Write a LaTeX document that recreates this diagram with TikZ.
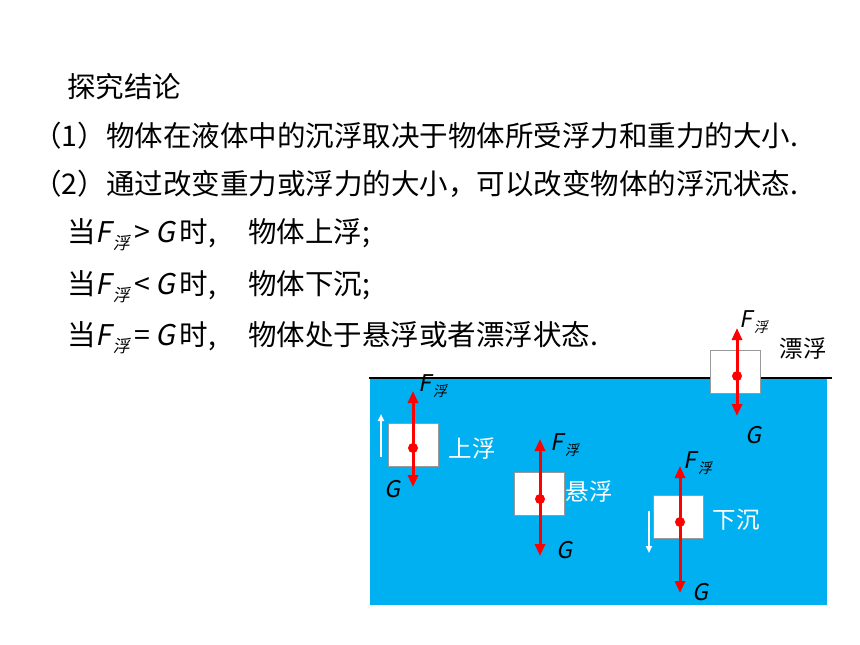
\documentclass[tikz,border=0pt]{standalone}
\usepackage{fontspec}
\setmainfont{Noto Sans CJK SC}
\newfontfamily\slfont[FakeSlant=0.2]{Noto Sans CJK SC}
\usetikzlibrary{arrows.meta}
\newcommand{\Fsub}[2]{{\slfont F\kern1.5pt\raisebox{#2}{\fontsize{#1}{#1}\selectfont 浮}}}
\begin{document}
\begin{tikzpicture}[x=1pt,y=-1pt,
  txt/.style={anchor=west,inner sep=0pt,font=\fontsize{28.5}{34}\selectfont},
  obj/.style={draw=gray!80,fill=white,line width=1pt,minimum width=50pt,minimum height=43pt,inner sep=0pt},
  dotc/.style={circle,fill=red,inner sep=0pt,minimum size=10pt},
  force/.style={red,line width=3pt,-{Triangle[width=10pt,length=12pt]}},
  motion/.style={white,line width=1.8pt,-{Triangle[width=6pt,length=7pt]}},
  flab/.style={inner sep=0pt,font=\fontsize{23}{23}\selectfont},
  wlab/.style={inner sep=0pt,text=white,font=\fontsize{23.5}{24}\selectfont},
  blab/.style={inner sep=0pt,text=black,font=\fontsize{23.5}{24}\selectfont}]
\useasboundingbox (0,0) rectangle (860,645);
\fill[white] (0,0) rectangle (860,645);
% text
\node[txt] (t0) at (67,87) {探究结论};
\node[txt] (t1) at (33,136) {（1）物体在液体中的沉浮取决于物体所受浮力和重力的大小.};
\node[txt] (t2) at (33,184) {（2）通过改变重力或浮力的大小，可以改变物体的浮沉状态.};
\node[txt] (t3) at (67,235) {当\Fsub{17}{-7pt}\,>\,{\slfont G}\,时,\hspace{32pt}物体上浮;};
\node[txt] (t4) at (67,287) {当\Fsub{17}{-7pt}\,<\,{\slfont G}\,时,\hspace{32pt}物体下沉;};
\node[txt] (t5) at (67,338) {当\Fsub{17}{-7pt}\,=\,{\slfont G}\,时,\hspace{32pt}物体处于悬浮或者漂浮状态.};
% water
\fill[fill={rgb,255:red,0;green,176;blue,240}] (370,378) rectangle (827,605);
\draw[black,line width=1.6pt] (369,378) -- (832,378);
% boxes
\node[obj] (bfl) at (735.5,372) {};
\node[obj] (bup) at (413,444.5) {};
\node[obj] (bsu) at (539,493.5) {};
\node[obj] (bsi) at (678,517) {};
% floating
\node[dotc] (dfl) at (737,376) {};
\coordinate (tfl) at (737,328);
\coordinate (gfl) at (737,416);
\draw[force] (dfl.center) -- (tfl);
\draw[force] (dfl.center) -- (gfl);
% rising
\node[dotc] (dup) at (413,448) {};
\coordinate (tup) at (413,391);
\coordinate (gup) at (413,487);
\draw[force] (dup.center) -- (tup);
\draw[force] (dup.center) -- (gup);
% suspended
\node[dotc] (dsu) at (540,499) {};
\coordinate (tsu) at (540,439);
\coordinate (gsu) at (540,556);
\draw[force] (dsu.center) -- (tsu);
\draw[force] (dsu.center) -- (gsu);
% sinking
\node[dotc] (dsi) at (680,522) {};
\coordinate (tsi) at (680,466);
\coordinate (gsi) at (680,593);
\draw[force] (dsi.center) -- (tsi);
\draw[force] (dsi.center) -- (gsi);
% motion arrows
\coordinate (mu1) at (381,457);
\coordinate (mu2) at (381,414);
\draw[motion] (mu1) -- (mu2);
\coordinate (md1) at (649,511);
\coordinate (md2) at (649,553);
\draw[motion] (md1) -- (md2);
% force labels
\node[flab] (ffl) at (754,322) {\Fsub{14}{-5pt}};
\node[flab] (fup) at (433,386) {\Fsub{14}{-5pt}};
\node[flab] (fsu) at (565,445) {\Fsub{14}{-5pt}};
\node[flab] (fsi) at (698,463) {\Fsub{14}{-5pt}};
\node[flab] (gfll) at (753,435) {\slfont G};
\node[flab] (gupl) at (392,489) {\slfont G};
\node[flab] (gsul) at (564,550) {\slfont G};
\node[flab] (gsil) at (700,592) {\slfont G};
% state labels
\node[blab] (lfl) at (803,349) {漂浮};
\node[wlab] (lup) at (472,449) {上浮};
\node[wlab] (lsu) at (589,492) {悬浮};
\node[wlab] (lsi) at (736,520) {下沉};
\end{tikzpicture}
\end{document}
